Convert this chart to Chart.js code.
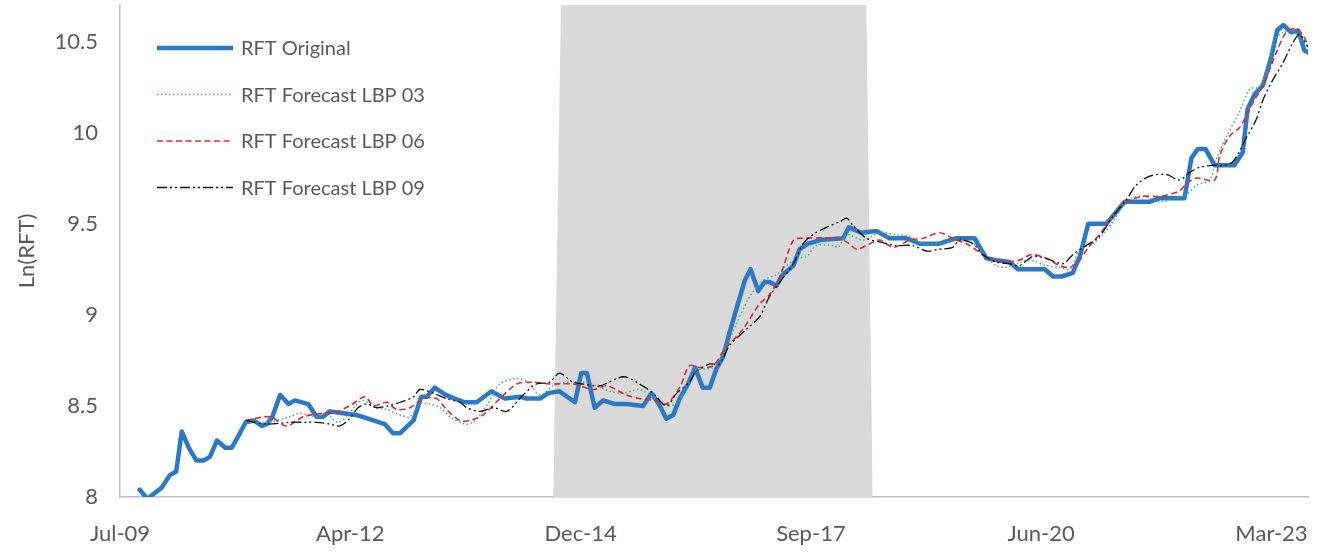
<!DOCTYPE html>
<html>
<head>
<meta charset="utf-8">
<script src="https://cdn.jsdelivr.net/npm/chart.js@4.4.0/dist/chart.umd.min.js"></script>
<style>
html,body{margin:0;padding:0;background:#ffffff;}
#c{display:block;}
</style>
</head>
<body>
<canvas id="c" width="1323" height="553"></canvas>
<script>
// ---- tick labels (x axis, months counted from Jul-09) ----
const tickLabels = ['Jul-09','Apr-12','Dec-14','Sep-17','Jun-20','Mar-23'];
const tickMonths = [0, 32.8, 65.6, 98.4, 131.2, 164];
const yTicks = [8, 8.5, 9, 9.5, 10, 10.5];

// ---- RFT Original ----
const origMonths = [2.8,3.9,5.9,7.1,8.0,8.8,9.8,10.9,11.9,12.8,13.8,15.0,15.9,16.8,17.9,19.0,20.2,20.9,21.7,22.8,24.0,24.9,26.8,28.0,28.9,29.9,31.8,33.7,36.1,37.7,38.9,39.9,41.8,42.9,43.7,44.8,46.4,47.7,49.1,50.8,52.9,54.8,57.0,57.9,59.8,61.0,62.6,64.8,65.7,66.5,67.6,68.8,70.5,72.1,74.5,75.7,76.9,77.8,78.8,79.7,80.9,81.9,83.0,84.0,84.9,85.9,86.8,88.0,89.0,89.8,90.9,91.8,92.5,93.5,94.4,95.9,96.8,98.0,99.7,103.0,103.8,105.6,107.7,109.6,112.0,113.9,116.7,119.1,121.7,123.4,124.8,126.7,127.9,131.7,132.9,134.1,135.7,136.7,137.9,140.5,143.1,146.6,148.1,151.6,152.6,153.5,154.6,155.9,157.3,158.7,159.9,160.6,161.6,162.8,164.0,164.8,165.7,166.8,167.8,168.7,169.2];
const origValues = [8.04,7.99,8.05,8.12,8.14,8.36,8.27,8.20,8.20,8.22,8.31,8.27,8.27,8.33,8.41,8.42,8.39,8.40,8.44,8.56,8.51,8.53,8.51,8.44,8.44,8.47,8.46,8.45,8.42,8.40,8.35,8.35,8.42,8.55,8.55,8.60,8.56,8.54,8.52,8.52,8.58,8.54,8.55,8.54,8.54,8.57,8.58,8.52,8.68,8.68,8.49,8.53,8.51,8.51,8.50,8.57,8.50,8.43,8.45,8.54,8.62,8.71,8.60,8.60,8.70,8.77,8.90,9.06,9.19,9.25,9.13,9.18,9.18,9.16,9.22,9.27,9.36,9.39,9.41,9.42,9.48,9.45,9.46,9.42,9.42,9.39,9.39,9.42,9.42,9.31,9.30,9.29,9.25,9.25,9.21,9.21,9.23,9.32,9.50,9.50,9.62,9.62,9.64,9.64,9.86,9.91,9.91,9.82,9.82,9.82,9.89,10.13,10.21,10.26,10.42,10.56,10.59,10.55,10.56,10.45,10.44];

// ---- RFT Forecast LBP 03 ----
const lbp03Months = [17.9,20.9,24.2,25.6,28.0,29.4,30.9,32.3,33.5,34.6,36.5,38.0,39.9,41.3,42.7,44.1,45.6,47.0,49.1,50.3,52.2,54.1,56.5,58.1,59.8,61.7,63.6,66.0,67.9,69.8,71.7,74.0,75.9,78.3,79.7,81.6,84.5,85.9,87.8,89.7,91.6,93.5,94.9,96.6,97.8,99.2,101.6,102.3,103.5,105.8,108.2,110.6,112.5,114.4,116.7,119.1,121.5,123.4,124.8,126.2,127.7,129.6,131.9,133.8,135.3,136.7,138.6,140.0,141.6,143.5,145.7,148.1,150.4,151.9,153.3,155.2,156.1,157.6,159.4,160.9,162.3,163.7,164.4,165.6,167.0,168.2,169.2];
const lbp03Values = [8.41,8.41,8.44,8.46,8.44,8.46,8.41,8.44,8.50,8.53,8.49,8.48,8.45,8.44,8.51,8.51,8.49,8.44,8.40,8.41,8.50,8.62,8.65,8.63,8.56,8.61,8.63,8.63,8.61,8.58,8.57,8.59,8.55,8.50,8.53,8.69,8.71,8.79,8.95,9.10,9.19,9.22,9.27,9.31,9.32,9.38,9.38,9.37,9.44,9.41,9.45,9.44,9.43,9.39,9.39,9.41,9.39,9.32,9.27,9.26,9.28,9.30,9.27,9.26,9.25,9.36,9.39,9.44,9.52,9.63,9.65,9.62,9.64,9.66,9.71,9.74,9.85,9.98,10.11,10.24,10.25,10.38,10.51,10.55,10.56,10.51,10.47];

// ---- RFT Forecast LBP 06 ----
const lbp06Months = [17.9,21.4,23.7,26.1,28.9,30.4,32.7,34.9,36.1,38.0,39.4,41.3,43.2,45.1,46.5,48.4,49.8,51.7,54.1,56.5,58.8,61.2,64.5,67.4,69.3,72.1,74.0,76.4,77.8,79.7,81.1,82.6,84.5,85.9,88.7,91.1,92.5,94.0,95.9,97.3,102.0,103.5,104.9,106.3,108.2,110.1,112.5,114.4,116.7,118.6,121.0,122.9,124.3,126.2,128.1,129.8,131.9,133.8,135.3,136.7,137.9,139.5,141.4,143.3,145.7,148.1,150.9,151.9,153.3,155.9,156.6,158.0,159.5,161.3,162.8,164.7,166.1,167.5,168.7,169.2];
const lbp06Values = [8.42,8.44,8.39,8.44,8.46,8.46,8.50,8.55,8.50,8.52,8.48,8.49,8.54,8.54,8.48,8.42,8.42,8.45,8.54,8.62,8.63,8.62,8.62,8.59,8.61,8.56,8.54,8.53,8.51,8.60,8.72,8.71,8.72,8.80,8.92,9.06,9.11,9.21,9.41,9.42,9.42,9.40,9.36,9.38,9.41,9.37,9.41,9.42,9.45,9.42,9.38,9.33,9.30,9.29,9.30,9.33,9.31,9.27,9.26,9.30,9.37,9.44,9.54,9.62,9.65,9.65,9.68,9.72,9.75,9.74,9.87,9.98,10.03,10.16,10.26,10.44,10.55,10.57,10.52,10.47];

// ---- RFT Forecast LBP 09 ----
const lbp09Months = [17.9,20.9,24.2,26.6,28.0,29.9,31.3,32.7,33.9,35.1,36.5,38.2,39.9,41.8,42.7,44.6,46.5,48.4,49.4,51.3,53.2,55.1,57.4,59.3,61.2,62.6,64.5,66.0,68.3,71.7,74.0,75.9,77.8,79.3,81.1,82.1,84.0,85.4,86.8,89.2,91.1,92.5,94.0,95.9,97.3,98.7,100.6,102.5,103.5,104.4,106.3,108.2,110.6,112.9,114.9,116.7,118.6,119.6,121.5,122.9,124.8,126.7,128.1,130.0,131.9,134.3,135.7,137.6,139.5,141.4,143.3,144.7,146.6,149.0,150.9,152.3,153.8,155.7,157.1,158.5,160.4,161.8,162.8,164.2,165.6,167.0,168.0,168.7,169.2];
const lbp09Values = [8.42,8.40,8.41,8.41,8.41,8.40,8.39,8.43,8.49,8.51,8.49,8.50,8.52,8.55,8.59,8.57,8.54,8.52,8.49,8.47,8.49,8.47,8.56,8.62,8.63,8.68,8.63,8.62,8.61,8.66,8.62,8.57,8.50,8.57,8.63,8.69,8.73,8.73,8.83,8.92,8.99,9.10,9.18,9.28,9.39,9.44,9.48,9.51,9.53,9.49,9.42,9.40,9.38,9.38,9.35,9.36,9.37,9.41,9.39,9.33,9.29,9.28,9.27,9.32,9.31,9.28,9.33,9.38,9.43,9.54,9.63,9.71,9.76,9.77,9.74,9.78,9.81,9.82,9.82,9.84,9.97,10.07,10.18,10.29,10.38,10.49,10.54,10.50,10.47];

// ---- shaded period ----
const bandMonths = [61.7, 62.8, 106.3, 107.2];
const bandValues = [8, 10.7, 10.7, 8];

const Y_MIN = 8, Y_MAX = 10.7, X_MIN = 0, X_MAX = 169.2;

function pts(xs, ys){ return xs.map((x,i)=>({x:x, y:ys[i]})); }

const TEXT = '#595959';
const FONT = 'Lato';

const legendPlugin = {
  id: 'insideLegend',
  afterDatasetsDraw(chart){
    const ctx = chart.ctx, area = chart.chartArea;
    const items = chart.data.datasets.filter(d => !d.isBand);
    ctx.save();
    items.forEach((d, i) => {
      const y = area.top + 43 + i * 46.5;
      const x0 = area.left + 37, x1 = area.left + 113;
      ctx.beginPath();
      ctx.strokeStyle = d.borderColor;
      ctx.lineWidth = d.legendWidth || d.borderWidth;
      ctx.setLineDash(d.borderDash || []);
      ctx.lineCap = 'butt';
      ctx.moveTo(x0, y); ctx.lineTo(x1, y);
      ctx.stroke();
      ctx.setLineDash([]);
      ctx.fillStyle = TEXT;
      ctx.font = '20px ' + FONT;
      ctx.textBaseline = 'middle';
      ctx.textAlign = 'left';
      ctx.fillText(d.label, area.left + 121, y + 1);
    });
    ctx.restore();
  }
};

function build(){
  new Chart(document.getElementById('c'), {
    type: 'line',
    data: {
      datasets: [
        { label: 'RFT Original', data: pts(origMonths, origValues), borderColor: '#2B78C9', borderWidth: 4.5, legendWidth: 4.5,
          pointRadius: 0, tension: 0, fill: false, order: 4, borderJoinStyle: 'round', borderCapStyle: 'round' },
        { label: 'RFT Forecast LBP 03', data: pts(lbp03Months, lbp03Values), borderColor: '#33B68E', borderWidth: 1.5,
          borderDash: [1.5, 2.5], pointRadius: 0, tension: 0.3, fill: false, order: 3 },
        { label: 'RFT Forecast LBP 06', data: pts(lbp06Months, lbp06Values), borderColor: '#E8262B', borderWidth: 1.6,
          borderDash: [6, 3.5], pointRadius: 0, tension: 0.3, fill: false, order: 2 },
        { label: 'RFT Forecast LBP 09', data: pts(lbp09Months, lbp09Values), borderColor: '#111111', borderWidth: 1.3,
          borderDash: [10, 3, 2, 3, 2, 3], pointRadius: 0, tension: 0.3, fill: false, order: 1 },
        { label: 'band', isBand: true, data: pts(bandMonths, bandValues), borderWidth: 0, borderColor: 'rgba(0,0,0,0)',
          backgroundColor: '#D9D9D9', fill: 'start', pointRadius: 0, tension: 0, order: 10 }
      ]
    },
    options: {
      responsive: false,
      animation: false,
      devicePixelRatio: 1,
      layout: { padding: { top: 5, right: 15, bottom: 0, left: 0 } },
      plugins: { legend: { display: false }, tooltip: { enabled: false } },
      scales: {
        x: {
          type: 'linear', min: X_MIN, max: X_MAX, z: 1,
          grid: { display: false, drawTicks: false },
          border: { display: true, color: '#BFBFBF', width: 1.5 },
          afterBuildTicks: s => { s.ticks = tickMonths.map(v => ({ value: v })); },
          afterFit: s => { s.height = 56; s.paddingLeft = 0; s.paddingRight = 0; },
          ticks: { autoSkip: false, maxRotation: 0, minRotation: 0, padding: 24, color: TEXT,
                   font: { family: FONT, size: 22 }, callback: (v, i) => tickLabels[i] }
        },
        y: {
          type: 'linear', min: Y_MIN, max: Y_MAX,
          grid: { display: false, drawTicks: false },
          border: { display: true, color: '#BFBFBF', width: 1.5 },
          afterBuildTicks: s => { s.ticks = yTicks.map(v => ({ value: v })); },
          afterFit: s => { s.width = 120; s.paddingTop = 0; s.paddingBottom = 0; },
          ticks: { padding: 22, color: TEXT, font: { family: FONT, size: 22 }, callback: v => String(v) },
          title: { display: true, text: 'Ln(RFT)', color: TEXT, font: { family: FONT, size: 22 }, padding: { top: 14, bottom: 0 } }
        }
      }
    },
    plugins: [legendPlugin]
  });
}

if (document.fonts && document.fonts.load) {
  Promise.all([document.fonts.load('22px Lato'), document.fonts.load('20px Lato')]).then(build, build);
} else { build(); }
</script>
</body>
</html>
